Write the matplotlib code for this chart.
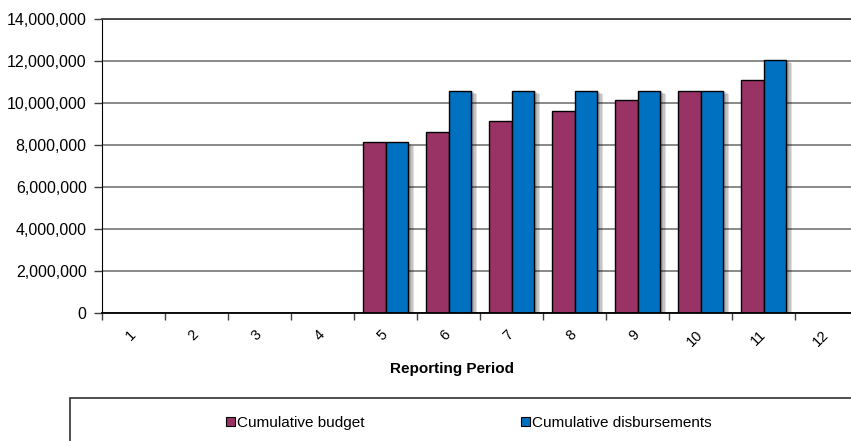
import matplotlib
matplotlib.use("Agg")
import matplotlib.pyplot as plt
import matplotlib.patheffects as pe
from matplotlib.patches import Rectangle, Patch
from matplotlib.ticker import FuncFormatter, FixedLocator

periods = list(range(1, 13))
budget = [0, 0, 0, 0, 8120000, 8620000, 9120000, 9620000, 10120000, 10590000, 11100000, 0]
disbursements = [0, 0, 0, 0, 8120000, 10590000, 10590000, 10590000, 10590000, 10590000, 12060000, 0]

budget_color = "#993366"
disb_color = "#0070C0"

plt.rcParams["font.family"] = ["Liberation Sans", "DejaVu Sans"]

W, H = 851, 441
fig = plt.figure(figsize=(W / 100, H / 100), dpi=100)
ax = fig.add_axes([102 / W, (H - 313) / H, (858 - 102) / W, (313 - 19) / H])

width = 0.365
# soft drop shadow built from a few stacked offsets
shadow = [pe.SimplePatchShadow(offset=(o, -o * 0.6), shadow_rgbFace="black", alpha=0.12)
          for o in (4, 3, 2, 1)] + [pe.Normal()]
for i, p in enumerate(periods):
    if budget[i] > 0:
        ax.bar(p - width / 2, budget[i], width, color=budget_color, edgecolor="black",
               linewidth=1, zorder=3, path_effects=shadow)
    if disbursements[i] > 0:
        ax.bar(p + width / 2, disbursements[i], width, color=disb_color, edgecolor="black",
               linewidth=1, zorder=3, path_effects=shadow)

ax.set_xlim(0.5, 12.5)
ax.set_ylim(0, 14000000)
ax.set_yticks(range(0, 14000001, 2000000))
ax.yaxis.set_major_formatter(FuncFormatter(lambda v, _: f"{int(v):,}"))
ax.yaxis.grid(True, color="#808080", linewidth=1.3, zorder=1)
ax.set_axisbelow(True)

ax.xaxis.set_major_locator(FixedLocator(periods))
ax.xaxis.set_minor_locator(FixedLocator([p + 0.5 for p in [0] + periods]))
ax.set_xticklabels([str(p) for p in periods], rotation=45, ha="right", va="center",
                   rotation_mode="anchor", fontsize=10.5)
ax.tick_params(axis="x", which="major", length=0, pad=14)
ax.tick_params(axis="x", which="minor", length=5, width=1, color="#404040")
ax.tick_params(axis="y", length=6, width=1, pad=5, labelsize=11.5, color="#404040")

ax.spines["right"].set_visible(False)
ax.spines["top"].set_color("#404040")
ax.spines["top"].set_linewidth(1.3)
ax.spines["left"].set_color("black")
ax.spines["bottom"].set_color("black")
ax.spines["bottom"].set_linewidth(1.3)
ax.spines["bottom"].set_zorder(4)

fig.text(452 / W, (H - 369) / H, "Reporting Period", ha="center", va="center",
         fontsize=11, fontweight="bold")

# legend frame, running off the right and bottom edges
fig.patches.append(Rectangle((70 / W, -0.1), 1, (H - 398) / H + 0.1, transform=fig.transFigure,
                             fill=False, edgecolor="#303030", linewidth=1.2))

handles = [Patch(facecolor=budget_color, edgecolor="black", linewidth=0.8, label="Cumulative budget"),
           Patch(facecolor=disb_color, edgecolor="black", linewidth=0.8, label="Cumulative disbursements")]
fig.legend(handles=handles, ncol=2, frameon=False, fontsize=11,
           loc="center left", bbox_to_anchor=(212 / W, (H - 423) / H),
           handlelength=0.6, handleheight=0.6, handletextpad=0.15, columnspacing=10.2)

fig.savefig("out.png", dpi=100)
